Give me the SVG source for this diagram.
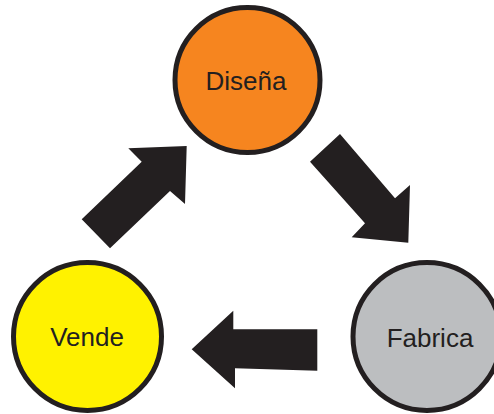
<svg xmlns="http://www.w3.org/2000/svg" width="494" height="414" viewBox="0 0 494 414">
<style>
.node{stroke:#231f20;stroke-width:5}
.lbl{font-family:"Liberation Sans",Arial,sans-serif;font-size:26px;fill:#231f20;text-anchor:middle}
.arrow{fill:#231f20}
</style>
<rect width="494" height="414" fill="#ffffff"/>
<g id="connectors">
<polygon class="arrow" points="81.7,219.3 141.7,161.7 128.3,148.3 186.7,146 185,204 170,191 110,248.3"/>
<polygon class="arrow" points="310,161.7 340,134 395,198.3 410,185 408.3,242.7 351.7,237.3 365,223.3"/>
<polygon class="arrow" points="191.7,349.3 233.3,310.7 233.3,329.3 317.3,329.3 317.3,370.7 235,368.3 235,388.3"/>
</g>
<g id="disena">
<circle class="node" cx="247.5" cy="80" r="72.5" fill="#f6851f"/>
<text class="lbl" x="246" y="89.5">Diseña</text>
</g>
<g id="fabrica">
<circle class="node" cx="427" cy="336.5" r="74" fill="#bcbec0"/>
<text class="lbl" x="430" y="346.5">Fabrica</text>
</g>
<g id="vende">
<circle class="node" cx="87.5" cy="336.5" r="74" fill="#fff200"/>
<text class="lbl" x="87" y="345.5">Vende</text>
</g>
</svg>
